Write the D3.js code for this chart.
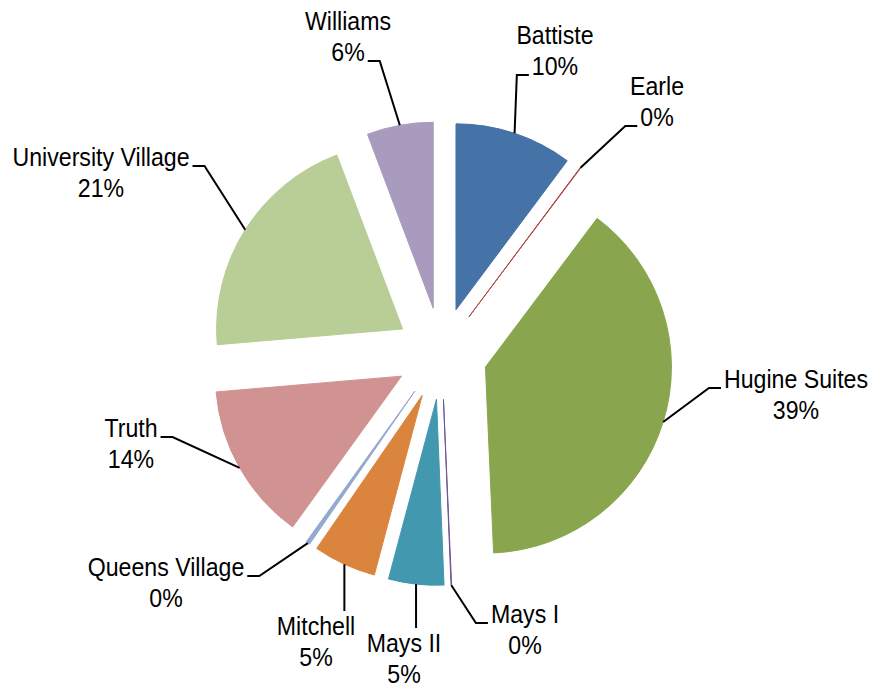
<!DOCTYPE html>
<html>
<head>
<meta charset="utf-8">
<script src="https://cdn.jsdelivr.net/npm/d3@7"></script>
<style>
  body { margin: 0; background: #fff; }
  svg { display: block; }
</style>
</head>
<body>
<div id="chart"></div>
<script>
'use strict';

// halls, clockwise from 12 o'clock
const HALLS = ['Battiste', 'Earle', 'Hugine Suites', 'Mays I', 'Mays II', 'Mitchell',
               'Queens Village', 'Truth', 'University Village', 'Williams'];
const SHARES = [10.2, 0.05, 39.05, 0.05, 4.8, 5.45, 0.35, 13.7, 20.6, 5.75];
const COLORS = ['#4572A7', '#AA4643', '#89A54E', '#71588F', '#4198AF', '#DB843D',
                '#93A9CF', '#D19392', '#B9CD96', '#A99BBD'];

// where each label sits: centre x, first baseline, line the leader hooks on, side
const LABELS = {
  'Battiste':           { x: 555, y: 44,  line: 2, side: 'L' },
  'Earle':              { x: 657, y: 95,  line: 2, side: 'L' },
  'Hugine Suites':      { x: 796, y: 388, line: 1, side: 'L' },
  'Mays I':             { x: 525, y: 623, line: 1, side: 'L' },
  'Mays II':            { x: 404, y: 652, line: 1, side: 'T' },
  'Mitchell':           { x: 316, y: 635, line: 1, side: 'T' },
  'Queens Village':     { x: 166, y: 576, line: 1, side: 'R' },
  'Truth':              { x: 131, y: 437, line: 1, side: 'R' },
  'University Village': { x: 101, y: 166, line: 1, side: 'R' },
  'Williams':           { x: 348, y: 30,  line: 2, side: 'R' },
};

const W = 872, H = 686;
const CX = 441.5, CY = 353.5, R = 186, POP = 46, LH = 31;
// no narrow face installed, so squeeze the regular one
const FONT = '"Liberation Sans", Arial, sans-serif';
const FS = 26, SQ = 0.89;

const svg = d3.select('#chart')
  .append('svg')
  .attr('width', W)
  .attr('height', H);

const rows = HALLS.map((n, i) => ({ name: n, share: SHARES[i], color: COLORS[i] }));
const pie = d3.pie().sort(null).value(d => d.share);
const arc = d3.arc().innerRadius(0).outerRadius(R);
const slices = pie(rows);

const mid = s => (s.startAngle + s.endAngle) / 2;
const along = (s, k) => [k * Math.sin(mid(s)), -k * Math.cos(mid(s))];

const g = svg.append('g').attr('transform', `translate(${CX},${CY})`);

g.selectAll('.slice')
  .data(slices)
  .enter()
  .append('path')
    .attr('class', 'slice')
    .attr('transform', s => `translate(${along(s, POP)})`)
    .attr('d', arc)
    .attr('fill', s => s.data.color)
    .attr('stroke', s => s.data.color)
    .attr('stroke-width', 1);

const pct = v => Math.round(v) + '%';

slices.forEach(s => {
  const spot = LABELS[s.data.name];
  const t = svg.append('text')
    .attr('transform', `translate(${spot.x},0) scale(${SQ},1)`)
    .attr('text-anchor', 'middle')
    .style('font-family', FONT)
    .style('font-size', FS + 'px')
    .attr('fill', '#000');
  const l1 = t.append('tspan').attr('x', 0).attr('y', spot.y).text(s.data.name);
  const l2 = t.append('tspan').attr('x', 0).attr('y', spot.y + LH).text(pct(s.data.share));

  const hook = spot.line === 1 ? l1 : l2;
  const w = hook.node().getComputedTextLength() * SQ;
  const by = spot.y + (spot.line === 1 ? 0 : LH);
  const o = along(s, POP + R);
  const start = [CX + o[0], CY + o[1]];

  let pts;
  if (spot.side === 'T') {
    pts = [start, [start[0], spot.y - 24]];
  } else {
    const ex = spot.side === 'L' ? spot.x - w / 2 - 3 : spot.x + w / 2 + 3;
    const elbow = spot.side === 'L' ? ex - 12 : ex + 12;
    pts = [start, [elbow, by], [ex, by]];
  }

  svg.append('path')
    .attr('d', d3.line()(pts))
    .attr('fill', 'none')
    .attr('stroke', '#000')
    .attr('stroke-width', 2);
});
</script>
</body>
</html>
